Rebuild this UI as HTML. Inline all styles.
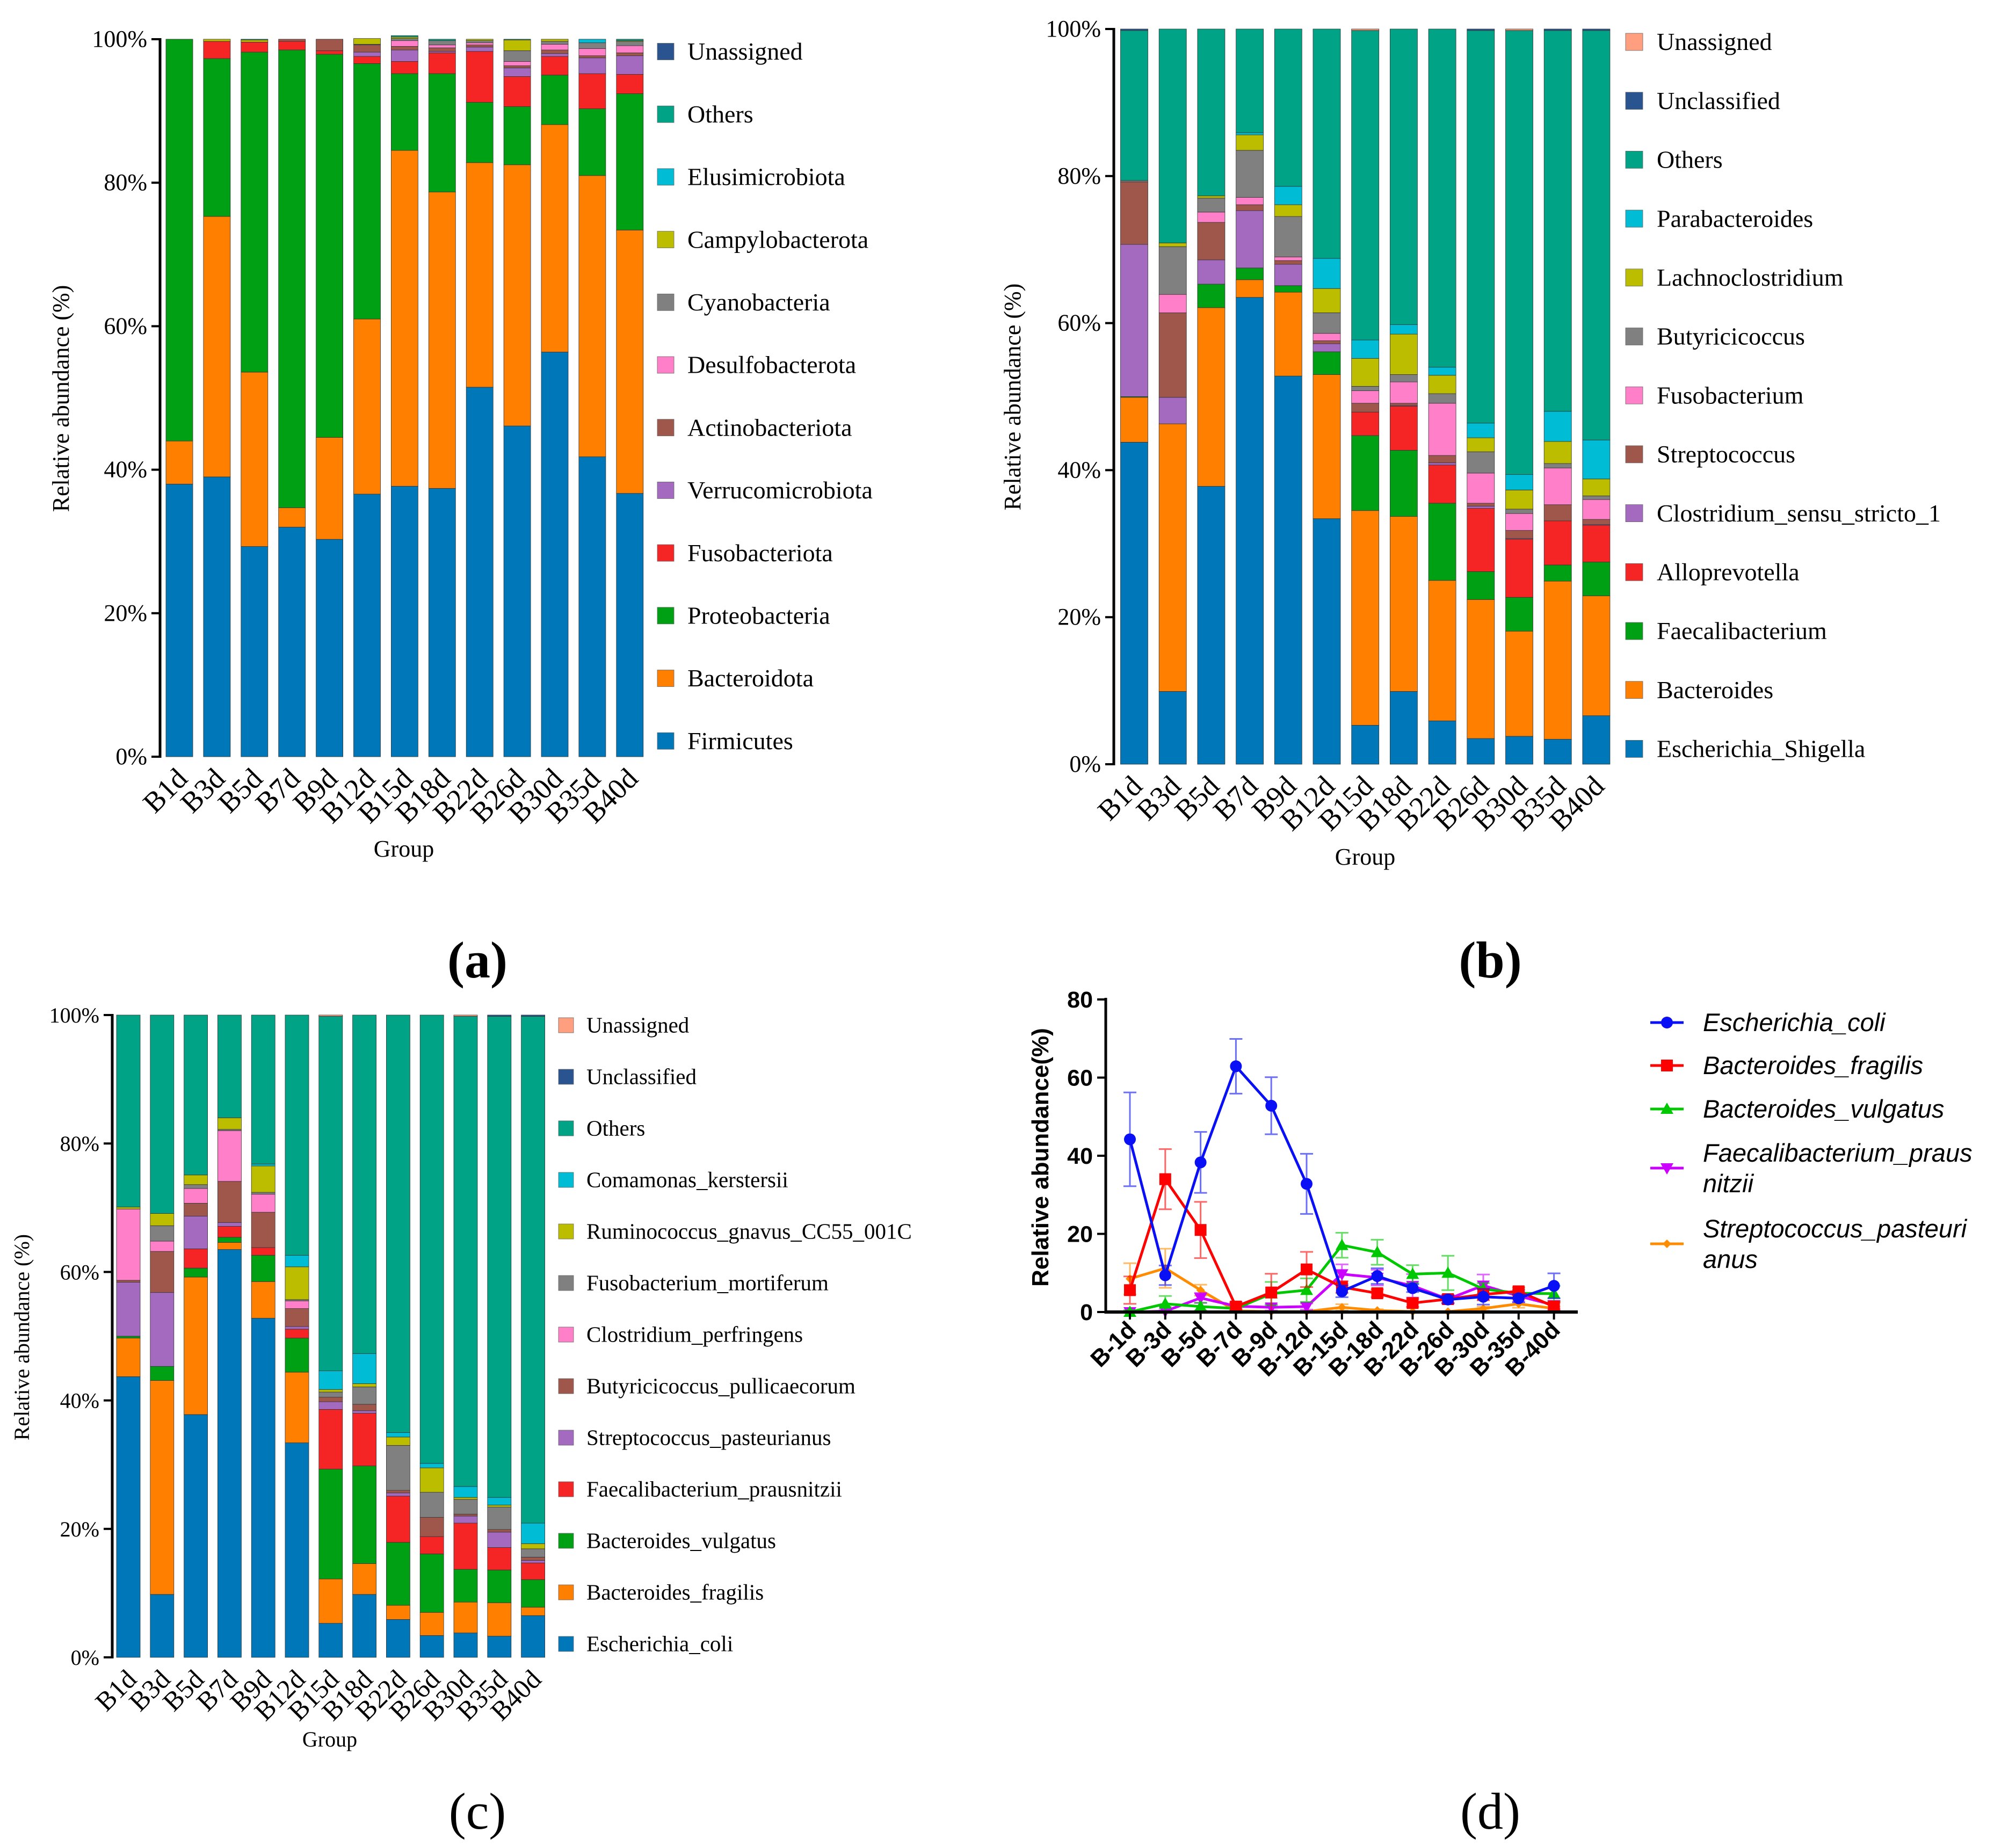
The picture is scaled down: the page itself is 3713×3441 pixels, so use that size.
<!DOCTYPE html>
<html><head><meta charset="utf-8"><style>
html,body{margin:0;padding:0;background:#fff;}
svg{display:block;}
.t{font-family:"Liberation Serif",serif;fill:#000;}
.a{font-family:"Liberation Sans",sans-serif;fill:#000;}
</style></head><body>
<svg id="fig" xmlns="http://www.w3.org/2000/svg" width="3713" height="3441" viewBox="0 0 3713 3441">
<rect width="3713" height="3441" fill="#fff"/>
<text class="t" x="889" y="1820" font-size="96" font-weight="bold" text-anchor="middle">(a)</text>
<text class="t" x="2775" y="1820" font-size="96" font-weight="bold" text-anchor="middle">(b)</text>
<text class="t" x="889" y="3405" font-size="96" text-anchor="middle">(c)</text>
<text class="t" x="2775" y="3405" font-size="96" text-anchor="middle">(d)</text>
</svg>
<script>
const NS='http://www.w3.org/2000/svg';
const svg=document.getElementById('fig');
function mk(tag,attrs,parent){const e=document.createElementNS(NS,tag);for(const k in attrs)e.setAttribute(k,attrs[k]);(parent||svg).appendChild(e);return e;}

// ---------- Panel (a) data ----------
const aCategories=['B1d','B3d','B5d','B7d','B9d','B12d','B15d','B18d','B22d','B26d','B30d','B35d','B40d'];
const aNames=['Firmicutes','Bacteroidota','Proteobacteria','Fusobacteriota','Verrucomicrobiota','Actinobacteriota','Desulfobacterota','Cyanobacteria','Campylobacterota','Elusimicrobiota','Others','Unassigned'];
const aFirmicutes=[38,39,29.3,32,30.3,36.6,37.7,37.4,51.5,46.1,56.4,41.8,36.7];
const aBacteroidota=[6,36.3,24.3,2.7,14.2,24.4,46.8,41.3,31.3,36.4,31.7,39.2,36.7];
const aProteobacteria=[56,22,44.6,63.8,53.4,35.6,10.7,16.5,8.4,8.1,6.9,9.3,19];
const aFusobacteriota=[0,2.4,1.4,1.2,0.5,1,1.7,2.9,7.1,4.2,2.6,4.9,2.7];
const aVerrucomicrobiota=[0,0,0,0,0,0.6,1.6,0.2,0.6,1.2,0.4,2.2,2.6];
const aActinobacteriota=[0,0,0,0.3,1.6,1,0.5,0.5,0.3,0.3,0.5,0.3,0.4];
const aDesulfobacterota=[0,0,0,0,0,0,0.8,0.4,0.3,0.6,0.8,1,1];
const aCyanobacteria=[0,0,0,0,0,0.1,0.3,0.6,0.3,1.5,0.4,0.8,0.6];
const aCampylobacterota=[0,0.3,0.3,0,0,0.8,0.2,0,0.2,1.5,0.3,0,0.1];
const aElusimicrobiota=[0,0,0,0,0,0,0,0,0,0,0,0.5,0];
const aOthers=[0,0,0.1,0,0,0,0.2,0.2,0,0.1,0,0,0.2];
const aUnassigned=[0,0,0,0,0,0,0,0,0,0,0,0,0];
const aSeries=[aFirmicutes,aBacteroidota,aProteobacteria,aFusobacteriota,aVerrucomicrobiota,aActinobacteriota,aDesulfobacterota,aCyanobacteria,aCampylobacterota,aElusimicrobiota,aOthers,aUnassigned];
const aTicks=['0%','20%','40%','60%','80%','100%'];

// ---------- Panel (b) data ----------
const bCategories=aCategories;
const bNames=['Escherichia_Shigella','Bacteroides','Faecalibacterium','Alloprevotella','Clostridium_sensu_stricto_1','Streptococcus','Fusobacterium','Butyricicoccus','Lachnoclostridium','Parabacteroides','Others','Unclassified','Unassigned'];
const bEscherichia=[43.8,9.9,37.8,63.5,52.8,33.4,5.3,9.9,5.9,3.5,3.8,3.4,6.6];
const bBacteroides=[6.1,36.4,24.3,2.4,11.4,19.6,29.2,23.8,19.1,18.9,14.3,21.5,16.3];
const bFaecalibacterium=[0.1,0,3.2,1.6,0.9,3.1,10.2,9,10.5,3.8,4.6,2.2,4.6];
const bAlloprevotella=[0,0,0,0,0,0,3.2,6,5.2,8.6,7.9,6,5];
const bClostridium=[20.7,3.6,3.3,7.8,2.9,1.1,0,0.1,0.3,0.3,0.1,0,0.1];
const bStreptococcus=[8.5,11.5,5.1,0.8,0.5,0.4,1.2,0.3,1,0.4,1.1,2.2,0.7];
const bFusobacterium=[0,2.5,1.4,1,0.5,1,1.7,2.9,7.1,4.1,2.3,5,2.7];
const bButyricicoccus=[0.2,6.5,1.9,6.4,5.5,2.8,0.6,1,1.3,2.9,0.6,0.6,0.5];
const bLachnoclostridium=[0,0.5,0.3,2.1,1.6,3.3,3.8,5.5,2.5,1.9,2.6,3,2.3];
const bParabacteroides=[0,0,0,0.3,2.5,4.1,2.5,1.3,1.1,2,2.1,4.1,5.3];
const bOthers=[20.4,29.1,22.7,14.1,21.4,31.2,42.1,40.2,46,53.4,60.4,51.8,55.7];
const bUnclassified=[0.2,0,0,0,0,0,0,0,0,0.2,0,0.2,0.2];
const bUnassigned=[0,0,0,0,0,0,0.2,0,0,0,0.2,0,0];
const bSeries=[bEscherichia,bBacteroides,bFaecalibacterium,bAlloprevotella,bClostridium,bStreptococcus,bFusobacterium,bButyricicoccus,bLachnoclostridium,bParabacteroides,bOthers,bUnclassified,bUnassigned];

// ---------- Panel (c) data ----------
const cCategories=aCategories;
const cNames=['Escherichia_coli','Bacteroides_fragilis','Bacteroides_vulgatus','Faecalibacterium_prausnitzii','Streptococcus_pasteurianus','Butyricicoccus_pullicaecorum','Clostridium_perfringens','Fusobacterium_mortiferum','Ruminococcus_gnavus_CC55_001C','Comamonas_kerstersii','Others','Unclassified','Unassigned'];
const cEcoli=[43.7,9.8,37.8,63.5,52.8,33.4,5.3,9.8,5.9,3.4,3.8,3.3,6.5];
const cFragilis=[6,33.3,21.4,1.1,5.7,11,6.9,4.8,2.2,3.6,4.8,5.2,1.3];
const cVulgatus=[0.3,2.2,1.4,0.8,4.1,5.3,17.1,15.2,9.8,9.1,5.1,5.1,4.3];
const cPrausnitzii=[0,0,3,1.7,1.2,1.4,9.3,8.2,7.2,2.7,7.2,3.5,2.6];
const cPasteurianus=[8.4,11.5,5.1,0.6,0,0.4,1.2,0.4,0.5,0,1.1,2.4,0.4];
const cPullicaecorum=[0.3,6.4,2,6.4,5.5,2.8,0.7,1,0.4,3,0.3,0.4,0.5];
const cPerfringens=[11.1,1.6,2.3,7.9,2.8,1.2,0,0,0,0,0,0,0];
const cMortiferum=[0,2.4,0.6,0.2,0.3,0.2,0.8,2.7,7,3.9,2.3,3.5,1.3];
const cGnavus=[0.3,1.9,1.5,1.8,4.1,5.1,0.4,0.5,1.3,3.8,0.3,0.3,0.8];
const cComamonas=[0,0,0,0,0.3,1.8,2.9,4.7,0.7,0.7,1.7,1.2,3.2];
const cOthers=[29.9,30.9,24.9,16,23.2,37.4,55.2,52.7,65,69.8,73.2,74.9,78.9];
const cUnclassified=[0,0,0,0,0,0,0,0,0,0,0,0.2,0.2];
const cUnassigned=[0,0,0,0,0,0,0.2,0,0,0,0.2,0,0];
const cSeries=[cEcoli,cFragilis,cVulgatus,cPrausnitzii,cPasteurianus,cPullicaecorum,cPerfringens,cMortiferum,cGnavus,cComamonas,cOthers,cUnclassified,cUnassigned];

// ---------- Panel (d) data ----------
const dCategories=['B-1d','B-3d','B-5d','B-7d','B-9d','B-12d','B-15d','B-18d','B-22d','B-26d','B-30d','B-35d','B-40d'];
const dEcoli=[44.2,9.4,38.3,62.9,52.8,32.8,5.3,9.2,6.1,3.2,3.9,3.5,6.7];
const dEcoliErr=[12,2.5,7.8,7,7.3,7.7,1.5,2,1,1,2,1,3.2];
const dFragilis=[5.6,34,21,1.4,5,10.9,6.4,4.8,2.3,3.3,4.5,5.3,1.4];
const dFragilisErr=[3.5,7.7,7.2,1,4.8,4.5,1.5,1,1,1,1.5,1,1];
const dVulgatus=[0,2.1,1.4,0.9,4.7,5.6,17.1,15.3,9.7,10,5.9,4.8,4.7];
const dVulgatusErr=[0.5,2,1,0.5,3,3,3.2,3.2,2.3,4.4,1.5,1,2];
const dPraus=[0,0.2,3.6,1.5,1.2,1.4,9.7,8.8,6.7,3.3,6.8,4.1,1.8];
const dPrausErr=[0,0.3,1.3,0.7,0.8,0.8,2.5,2,3,1,2.8,1.5,1];
const dPast=[8.5,11.2,5.6,0.3,0.1,0.1,1.2,0.4,0.1,0.1,0.9,2.1,0.9];
const dPastErr=[4,5,1.4,0.5,0,0,0.8,0.3,0,0,0.5,1,0.5];
const dTicks=[0,20,40,60,80];

const COL13=['#0077b8','#ff7f00','#00a014','#f52525','#a46ac0','#a0574b','#ff80c8','#808080','#bdbd00','#00bcd4','#00a385','#2a5490','#ff9f80'];
const COLA=['#0077b8','#ff7f00','#00a014','#f52525','#a46ac0','#a0574b','#ff80c8','#808080','#bdbd00','#00bcd4','#00a385','#2a5490'];

function stacked(p){
  const g=mk('g',{});
  
  
  const yS=v=>p.y0-(v/100)*(p.y0-p.y100);
  const xS=i=>p.x0+i*p.step;
  p.cats.forEach((c,i)=>{
    let cum=0;
    p.series.forEach((s,k)=>{
      const v=s[i]; if(v<=0){return;}
      const r=mk('rect',{x:xS(i)-p.bw/2,y:yS(cum+v),width:p.bw,height:yS(cum)-yS(cum+v),fill:p.colors[k],stroke:'#333','stroke-width':0.8},g);
      
      
      cum+=v;
    });
    const tx=xS(i)+18, ty=p.y0+44;
    const t=mk('text',{class:'t',x:tx,y:ty,'font-size':p.xfs,'text-anchor':'end',transform:'rotate(-45 '+tx+' '+ty+')'},g);
    t.textContent=c;
    
    
  });
  const ax=mk('line',{x1:p.axisX,y1:p.y100-2,x2:p.axisX,y2:p.y0+2,stroke:'#000','stroke-width':5},g);
  
  
  aTicks.forEach((tl,j)=>{
    const y=yS(j*20);
    mk('line',{x1:p.axisX-16,y1:y,x2:p.axisX,y2:y,stroke:'#000','stroke-width':4},g);
    const t=mk('text',{class:'t',x:p.axisX-24,y:y+14,'font-size':p.fs,'text-anchor':'end'},g);
    t.textContent=tl;
    
    
  });
  const yt=mk('text',{class:'t',x:p.ytX,y:p.ytY,'font-size':p.fs,'text-anchor':'middle',transform:'rotate(-90 '+p.ytX+' '+p.ytY+')'},g);
  yt.textContent='Relative abundance (%)';
  
  
  const xt=mk('text',{class:'t',x:p.gX,y:p.gY,'font-size':p.fs,'text-anchor':'middle'},g);
  xt.textContent='Group';
  
  
  const n=p.names.length;
  for(let j=0;j<n;j++){
    const k=n-1-j; const cy=p.lgY+j*p.lgStep;
    const s=mk('rect',{x:p.lgX,y:cy-p.sq/2,width:p.sq,height:p.sq,fill:p.colors[k],stroke:'#666','stroke-width':0.8},g);
    
    
    const t=mk('text',{class:'t',x:p.lgTX,y:cy+p.lfs*0.33,'font-size':p.lfs},g);
    t.textContent=p.names[k];
    
    
  }
}

stacked({id:'a',cats:aCategories,names:aNames,series:aSeries,colors:COLA,x0:334,step:69.9,bw:50,y0:1409,y100:73,axisX:298,fs:44,xfs:54,ytX:128,ytY:742,gX:752,gY:1595,lgX:1224,lgY:96,lgStep:116.7,sq:31,lgTX:1280,lfs:46});
stacked({id:'b',cats:bCategories,names:bNames,series:bSeries,colors:COL13,x0:2112,step:71.7,bw:51,y0:1423,y100:54,axisX:2074,fs:44,xfs:54,ytX:1900,ytY:739,gX:2542,gY:1610,lgX:3027,lgY:78,lgStep:109.7,sq:32,lgTX:3085,lfs:46});
stacked({id:'c',cats:cCategories,names:cNames,series:cSeries,colors:COL13,x0:239,step:62.8,bw:44,y0:3086,y100:1890,axisX:209,fs:40,xfs:50,ytX:54,ytY:2490,gX:614,gY:3252,lgX:1040,lgY:1909,lgStep:96,sq:28,lgTX:1092,lfs:41});

(function(){
  const g=mk('g',{});
  
  
  const X0=2104,STEP=65.8,Y0=2443,YTOP=1861,AX=2059;
  const xS=i=>X0+i*STEP; const yS=v=>Y0-v*(Y0-YTOP)/80;
  const series=[
    {n:'Streptococcus_pasteurianus',v:dPast,e:dPastErr,c:'#ff8c00',m:'diamond'},
    {n:'Faecalibacterium_prausnitzii',v:dPraus,e:dPrausErr,c:'#cc00ff',m:'tdown'},
    {n:'Bacteroides_vulgatus',v:dVulgatus,e:dVulgatusErr,c:'#00c800',m:'tup'},
    {n:'Bacteroides_fragilis',v:dFragilis,e:dFragilisErr,c:'#ff0000',m:'square'},
    {n:'Escherichia_coli',v:dEcoli,e:dEcoliErr,c:'#0a10f5',m:'circle'}];
  function marker(type,x,y,c,parent){
    if(type==='circle')return mk('circle',{cx:x,cy:y,r:11,fill:c},parent);
    if(type==='square')return mk('rect',{x:x-11,y:y-11,width:22,height:22,fill:c},parent);
    if(type==='tup')return mk('polygon',{points:`${x},${y-12} ${x-12},${y+9} ${x+12},${y+9}`,fill:c},parent);
    if(type==='tdown')return mk('polygon',{points:`${x},${y+12} ${x-12},${y-9} ${x+12},${y-9}`,fill:c},parent);
    return mk('polygon',{points:`${x},${y-8} ${x+8},${y} ${x},${y+8} ${x-8},${y}`,fill:c},parent);
  }
  series.forEach(s=>{
    const sg=mk('g',{},g);
    
    
    s.v.forEach((v,i)=>{
      if(s.e[i]>0){
        const x=xS(i),y1=yS(v+s.e[i]),y2=yS(Math.max(0,v-s.e[i]));
        mk('path',{d:`M${x} ${y1}V${y2}M${x-12} ${y1}H${x+12}M${x-12} ${y2}H${x+12}`,stroke:s.c,'stroke-width':3,'stroke-opacity':0.6,fill:'none'},sg);
      }
    });
    const pl=mk('polyline',{points:s.v.map((v,i)=>xS(i)+','+yS(v)).join(' '),fill:'none',stroke:s.c,'stroke-width':5},sg);
    
    
    s.v.forEach((v,i)=>{
      const m=marker(s.m,xS(i),yS(v),s.c,sg);
      
      
    });
  });
  const ya=mk('line',{x1:AX,y1:YTOP-3,x2:AX,y2:Y0+3,stroke:'#000','stroke-width':5},g);
  
  
  const xa=mk('line',{x1:AX,y1:Y0,x2:2938,y2:Y0,stroke:'#000','stroke-width':6},g);
  
  
  dTicks.forEach(v=>{
    mk('line',{x1:AX-16,y1:yS(v),x2:AX,y2:yS(v),stroke:'#000','stroke-width':4},g);
    const t=mk('text',{class:'a',x:AX-24,y:yS(v)+15,'font-size':43,'font-weight':'bold','text-anchor':'end'},g);
    t.textContent=v;
    
    
  });
  dCategories.forEach((c,i)=>{
    mk('line',{x1:xS(i),y1:Y0,x2:xS(i),y2:Y0+14,stroke:'#000','stroke-width':4},g);
    const tx=xS(i)+14,ty=Y0+36;
    const t=mk('text',{class:'a',x:tx,y:ty,'font-size':44,'font-weight':'bold','text-anchor':'end',transform:`rotate(-45 ${tx} ${ty})`},g);
    t.textContent=c;
    
    
  });
  const yt=mk('text',{class:'a',x:1952,y:2155,'font-size':44,'font-weight':'bold','text-anchor':'middle',transform:'rotate(-90 1952 2155)'},g);
  yt.textContent='Relative abundance(%)';
  
  
  const leg=[
    {l:['Escherichia_coli'],c:'#0a10f5',m:'circle',y:1904},
    {l:['Bacteroides_fragilis'],c:'#ff0000',m:'square',y:1984},
    {l:['Bacteroides_vulgatus'],c:'#00c800',m:'tup',y:2065},
    {l:['Faecalibacterium_praus','nitzii'],c:'#cc00ff',m:'tdown',y:2147},
    {l:['Streptococcus_pasteuri','anus'],c:'#ff8c00',m:'diamond',y:2288}];
  leg.forEach(e=>{
    const lg=mk('g',{},g);
    
    
    const my=e.l.length>1?e.y+28:e.y;
    mk('line',{x1:3073,y1:my,x2:3135,y2:my,stroke:e.c,'stroke-width':5},lg);
    marker(e.m,3104,my,e.c,lg);
    e.l.forEach((s,k)=>{
      const t=mk('text',{class:'a',x:3171,y:e.y+16+k*57,'font-size':47,'font-style':'italic'},lg);
      t.textContent=s;
    });
  });
})();
</script>
</body></html>
